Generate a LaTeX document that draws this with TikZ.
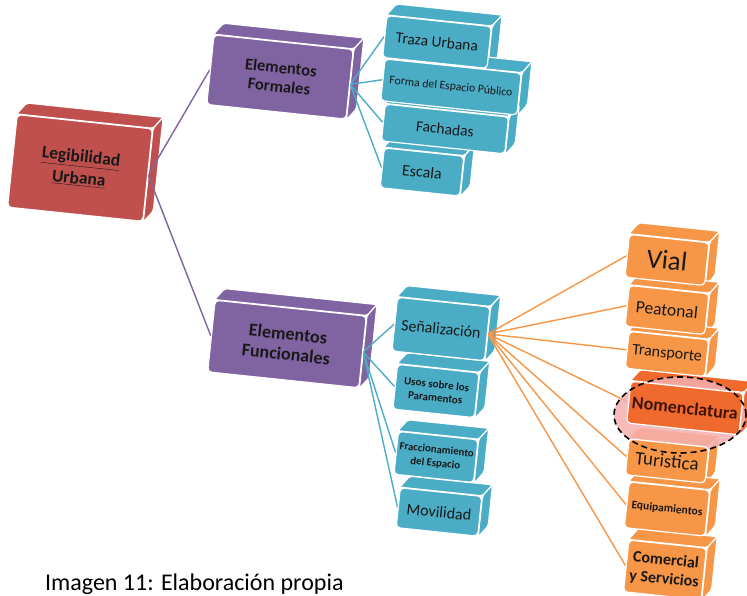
\documentclass[tikz,border=0pt]{standalone}
\usepackage{fontspec}
\setmainfont{Carlito}
\usetikzlibrary{calc,backgrounds}

\definecolor{rojo}{HTML}{C0504D}
\definecolor{morado}{HTML}{8064A2}
\definecolor{azul}{HTML}{4BACC6}
\definecolor{naranja}{HTML}{F79646}
\definecolor{nomcol}{HTML}{F06A2E}
\definecolor{rosa}{HTML}{F6AFAF}
\definecolor{marron}{HTML}{3F1406}

\tikzset{
    bloque/.style={
        rotate=-6,
        rounded corners=4pt,
        draw=white,
        line width=1.2pt,
        align=center,
        inner sep=1pt,
        text=black!90
    },
    cara/.style={draw=white, line width=1.2pt, line join=round, rounded corners=2pt},
    enlace/.style={line width=1.4pt}
}

\begin{document}
\begin{tikzpicture}[x=1pt,y=1pt]
    \useasboundingbox (0,0) rectangle (747,596);

    % nivel 1
    \node[bloque, fill=rojo, minimum width=136pt, minimum height=93pt,
        font=\fontsize{17.5}{22}\selectfont\bfseries] (leg) at (80,428)
        {\underline{Legibilidad}\\\underline{Urbana}};

    % nivel 2
    \node[bloque, fill=morado, minimum width=140pt, minimum height=70pt,
        font=\fontsize{16.5}{19}\selectfont\bfseries] (form) at (280,519)
        {Elementos\\Formales};
    \node[bloque, fill=morado, minimum width=152pt, minimum height=72pt,
        font=\fontsize{18}{20.5}\selectfont\bfseries] (func) at (287,252)
        {Elementos\\Funcionales};

    % nivel 3
    \node[bloque, fill=azul, minimum width=105pt, minimum height=42pt,
        font=\fontsize{15.5}{18}\selectfont] (traza) at (437,554) {Traza Urbana};
    \node[bloque, fill=azul, minimum width=137pt, minimum height=42pt,
        font=\fontsize{11.7}{14}\selectfont] (forma) at (451,509) {Forma del Espacio Público};
    \node[bloque, fill=azul, minimum width=124pt, minimum height=37pt,
        font=\fontsize{15.5}{18}\selectfont] (fach) at (445,467) {Fachadas};
    \node[bloque, fill=azul, minimum width=80pt, minimum height=40pt,
        font=\fontsize{16}{18}\selectfont] (esc) at (422,424) {Escala};

    \node[bloque, fill=azul, minimum width=93pt, minimum height=54pt,
        font=\fontsize{16}{18}\selectfont] (senal) at (441,267) {Señalización};
    \node[bloque, fill=azul, minimum width=82pt, minimum height=45pt,
        font=\fontsize{11}{13.5}\selectfont\bfseries] (usos) at (436,205) {Usos sobre los\\Paramentos};
    \node[bloque, fill=azul, minimum width=80pt, minimum height=43pt,
        font=\fontsize{10.8}{13.5}\selectfont\bfseries] (frac) at (436,139) {Fraccionamiento\\del Espacio};
    \node[bloque, fill=azul, minimum width=82pt, minimum height=40pt,
        font=\fontsize{16}{18}\selectfont] (movi) at (439,84) {Movilidad};

    % nivel 4
    \node[bloque, fill=naranja, minimum width=80pt, minimum height=43pt,
        font=\fontsize{27}{29}\selectfont] (vial) at (667,336) {Vial};
    \node[bloque, fill=naranja, minimum width=80pt, minimum height=41pt,
        font=\fontsize{17.5}{20}\selectfont] (peat) at (667,286) {Peatonal};
    \node[bloque, fill=naranja, minimum width=80pt, minimum height=37pt,
        font=\fontsize{16}{18}\selectfont] (trans) at (667,242) {Transporte};
    \node[bloque, fill=nomcol, minimum width=113pt, minimum height=42pt, text=marron,
        font=\fontsize{18}{20}\selectfont\bfseries] (nom) at (685,188) {Nomenclatura};
    \node[bloque, fill=naranja, minimum width=80pt, minimum height=36pt,
        font=\fontsize{19}{21}\selectfont] (tur) at (667,135) {Turistica};
    \node[bloque, fill=naranja, minimum width=81pt, minimum height=46pt,
        font=\fontsize{11.5}{13}\selectfont\bfseries] (equip) at (667,87) {Equipamientos};
    \node[bloque, fill=naranja, minimum width=78pt, minimum height=52pt,
        font=\fontsize{16}{19}\selectfont\bfseries] (com) at (665,26) {Comercial\\y Servicios};

    \node[anchor=base west, font=\fontsize{24}{28}\selectfont, inner sep=0pt] (pie) at (45,5)
        {Imagen 11: Elaboración propia};

    \begin{scope}[on background layer]
        % caras de los bloques
        \foreach \n/\c in {leg/rojo,form/morado,func/morado,traza/azul,forma/azul,fach/azul,
            esc/azul,senal/azul,usos/azul,frac/azul,movi/azul,vial/naranja,peat/naranja,
            trans/naranja,nom/nomcol,tur/naranja,equip/naranja,com/naranja}{
            \filldraw[cara, fill=\c] (\n.north west) -- ++(10,11)
                -- ($(\n.north east)+(10,11)$) -- (\n.north east) -- cycle;
            \filldraw[cara, fill=\c] (\n.north east) -- ++(10,11)
                -- ($(\n.south east)+(10,11)$) -- (\n.south east) -- cycle;
        }
        % conectores
        \foreach \m in {form,func}
            \draw[enlace, morado] (leg.east) -- (\m.west);
        \foreach \m in {traza,forma,fach,esc}
            \draw[enlace, azul] (form.east) -- (\m.west);
        \foreach \m in {senal,usos,frac,movi}
            \draw[enlace, azul] (func.east) -- (\m.west);
        \foreach \m in {vial,peat,trans,nom,tur,equip,com}
            \draw[enlace, naranja] (senal.east) -- (\m.west);
        \fill[rosa, fill opacity=0.85] (680,181) ellipse [x radius=66, y radius=38];
    \end{scope}

    \draw[black, line width=1.6pt, dash pattern=on 6pt off 4pt] (680,181) ellipse [x radius=66, y radius=38];
\end{tikzpicture}
\end{document}
